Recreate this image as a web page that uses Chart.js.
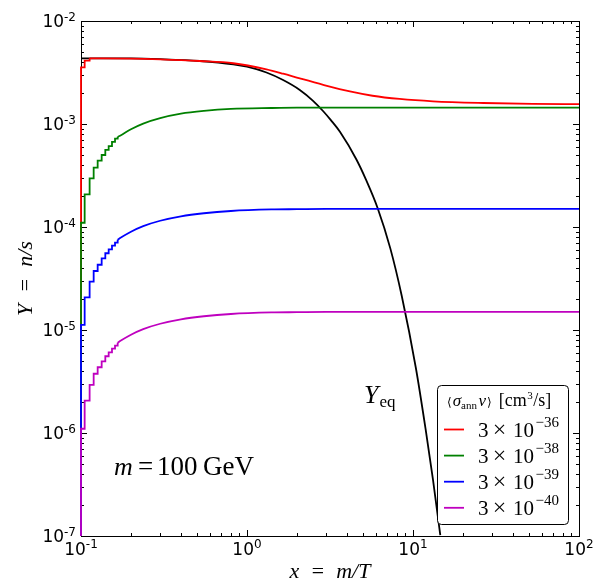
<!DOCTYPE html>
<html lang="en">
<head>
  <meta charset="UTF-8">
  <title>Yield Y = n/s</title>
  <script src="https://cdn.jsdelivr.net/npm/chart.js"></script>
  <style>
    body { margin: 0; background: #fff; }
    #wrap { width: 595px; height: 585px; }
  </style>
</head>
<body>
  <div id="wrap"><canvas id="yieldChart" width="595" height="585"></canvas></div>

  <script>
    // Treppen am Anfang (gleiche x-Stufen fuer alle Kurven)
    const stepX        = [0.1, 0.1052, 0.1127, 0.1192, 0.1260, 0.1332, 0.1401, 0.1468, 0.1537, 0.1603, 0.1663];
    const greenStepY   = [1.1e-4, 2.07e-4, 2.97e-4, 3.77e-4, 4.41e-4, 5.0e-4, 5.6e-4, 6.1e-4, 6.7e-4, 7.2e-4, 7.5e-4];
    const blueStepY    = [1.12e-5, 2.07e-5, 2.95e-5, 3.74e-5, 4.3e-5, 4.97e-5, 5.56e-5, 6.07e-5, 6.59e-5, 7.05e-5, 7.5e-5];
    const magentaStepY = [1.1e-6, 2.06e-6, 2.93e-6, 3.76e-6, 4.35e-6, 4.97e-6, 5.56e-6, 6.07e-6, 6.6e-6, 7.05e-6, 7.5e-6];
    const redStepX     = [0.1, 0.1052, 0.1127];
    const redStepY     = [3.55e-3, 4.12e-3, 4.34e-3];

    // glatter Teil
    const smoothX  = [0.172, 0.2, 0.237, 0.3, 0.4, 0.55, 0.8, 1.4, 2, 3, 5, 10, 20, 50, 100];
    const greenY   = [7.7e-4, 8.9e-4, 1.01e-3, 1.14e-3, 1.26e-3, 1.34e-3, 1.4e-3, 1.43e-3, 1.44e-3, 1.44e-3, 1.44e-3, 1.44e-3, 1.44e-3, 1.44e-3, 1.44e-3];
    const blueY    = [7.8e-5, 9.0e-5, 1.02e-4, 1.15e-4, 1.27e-4, 1.36e-4, 1.43e-4, 1.48e-4, 1.49e-4, 1.5e-4, 1.5e-4, 1.5e-4, 1.5e-4, 1.5e-4, 1.5e-4];
    const magentaY = [7.8e-6, 9.0e-6, 1.02e-5, 1.15e-5, 1.27e-5, 1.36e-5, 1.43e-5, 1.48e-5, 1.49e-5, 1.5e-5, 1.5e-5, 1.5e-5, 1.5e-5, 1.5e-5, 1.5e-5];

    const redX = [0.2, 0.3, 0.52, 0.827, 1.31, 1.65, 2.08, 2.88, 4.17, 5.7, 8.3, 13.2, 26.5, 52.7, 100];
    const redY = [4.32e-3, 4.25e-3, 4.09e-3, 3.89e-3, 3.39e-3, 3.08e-3, 2.77e-3, 2.4e-3, 2.07e-3, 1.88e-3, 1.75e-3, 1.66e-3, 1.6e-3, 1.57e-3, 1.56e-3];

    // Gleichgewicht Y_eq
    const eqX = [0.1, 0.2, 0.3, 0.52, 0.827, 1.0, 1.31, 1.65, 2.08, 2.5, 2.88, 3.2, 3.63, 4.57, 5.2, 6.12, 7.3, 8.55, 10.4, 11.9, 13.2, 14.6];
    const eqY = [4.34e-3, 4.33e-3, 4.26e-3, 4.09e-3, 3.8e-3, 3.6e-3, 3.16e-3, 2.67e-3, 2.14e-3, 1.68e-3, 1.33e-3, 1.09e-3, 8.4e-4, 4.5e-4, 2.9e-4, 1.53e-4, 6.2e-5, 2.15e-5, 4.3e-6, 1.1e-6, 3.5e-7, 1.02e-7];

    // Legende
    const sigmaExp = ['\u221236', '\u221238', '\u221239', '\u221240'];
    const colors   = ['#ff0000', '#008000', '#0000ff', '#bf00bf'];

    const FLOOR = 1e-9; // Startwert unterhalb der Achse
    const pts = (xs, ys) => xs.map((x, i) => ({ x: x, y: ys[i] }));

    function stepSet(color, xs, ys, order) {
      return {
        data: [{ x: xs[0], y: FLOOR }].concat(pts(xs, ys)),
        stepped: 'before', borderColor: color, borderWidth: 1.8,
        pointRadius: 0, fill: false, order: order,
        clip: { left: 3, top: 0, right: 0, bottom: 0 } // senkrechte Linie auf der Achse sichtbar lassen
      };
    }
    function smoothSet(color, xs, ys, order, label, startX, startY) {
      let data = pts(xs, ys);
      if (startX !== undefined) data = [{ x: startX, y: startY }].concat(data);
      return {
        label: label, data: data, borderColor: color, borderWidth: 1.8,
        cubicInterpolationMode: 'monotone', pointRadius: 0, fill: false, order: order
      };
    }
    const last = a => a[a.length - 1];

    const datasets = [
      smoothSet('#000000', eqX, eqY, 10, 'Yeq'),
      stepSet(colors[0], redStepX, redStepY, 9),
      smoothSet(colors[0], redX, redY, 9, 'red', last(redStepX), last(redStepY)),
      stepSet(colors[1], stepX, greenStepY, 8),
      smoothSet(colors[1], smoothX, greenY, 8, 'green', last(stepX), last(greenStepY)),
      stepSet(colors[2], stepX, blueStepY, 7),
      smoothSet(colors[2], smoothX, blueY, 7, 'blue', last(stepX), last(blueStepY)),
      stepSet(colors[3], stepX, magentaStepY, 6),
      smoothSet(colors[3], smoothX, magentaY, 6, 'magenta', last(stepX), last(magentaStepY))
    ];

    // Log-Ticks 1..9 pro Dekade
    function decadeTicks(scale) {
      const ticks = [];
      const e0 = Math.round(Math.log10(scale.min));
      const e1 = Math.round(Math.log10(scale.max));
      for (let e = e0; e <= e1; e++) {
        for (let k = 1; k <= 9; k++) {
          const v = k * Math.pow(10, e);
          if (v >= scale.min * 0.999 && v <= scale.max * 1.001) ticks.push({ value: v });
        }
      }
      scale.ticks = ticks;
    }
    const isDecade = v => Math.abs(Math.log10(v) - Math.round(Math.log10(v))) < 1e-9;

    const titleFont = { family: 'Liberation Serif', size: 22, style: 'italic' };

    // Rahmen und Ticks nach innen
    const framePlugin = {
      id: 'frame',
      beforeDatasetsDraw(chart) {
        const ctx = chart.ctx, a = chart.chartArea;
        const sx = chart.scales.x, sy = chart.scales.y;
        ctx.save();
        ctx.strokeStyle = '#000';
        ctx.lineWidth = 1;
        ctx.strokeRect(Math.round(a.left) + 0.5, Math.round(a.top) + 0.5,
          Math.round(a.right - a.left), Math.round(a.bottom - a.top));
        ctx.beginPath();
        sx.ticks.forEach(t => {
          const px = Math.round(sx.getPixelForValue(t.value)) + 0.5;
          const len = isDecade(t.value) ? 6 : 3;
          ctx.moveTo(px, a.bottom); ctx.lineTo(px, a.bottom - len);
          ctx.moveTo(px, a.top); ctx.lineTo(px, a.top + len);
        });
        sy.ticks.forEach(t => {
          const py = Math.round(sy.getPixelForValue(t.value)) + 0.5;
          const len = isDecade(t.value) ? 6 : 3;
          ctx.moveTo(a.left, py); ctx.lineTo(a.left + len, py);
          ctx.moveTo(a.right, py); ctx.lineTo(a.right - len, py);
        });
        ctx.stroke();
        ctx.restore();
      },
      // Zehnerpotenzen mit hochgestelltem Exponenten
      afterDraw(chart) {
        const ctx = chart.ctx, a = chart.chartArea;
        const mainF = '17px "DejaVu Sans"', supF = '12px "DejaVu Sans"';
        ctx.save();
        ctx.fillStyle = '#000';
        ctx.textAlign = 'left';
        ctx.textBaseline = 'alphabetic';
        const label = (v, x, y, anchor) => {
          const ex = String(Math.round(Math.log10(v)));
          ctx.font = mainF; const wm = ctx.measureText('10').width;
          ctx.font = supF; const ws = ctx.measureText(ex).width;
          const x0 = anchor === 'right' ? x - wm - ws : x - (wm + ws) / 2;
          ctx.font = mainF; ctx.fillText('10', x0, y);
          ctx.font = supF; ctx.fillText(ex, x0 + wm, y - 6.5);
        };
        chart.scales.y.ticks.forEach(t => {
          if (isDecade(t.value)) label(t.value, a.left - 5, chart.scales.y.getPixelForValue(t.value) + 6, 'right');
        });
        chart.scales.x.ticks.forEach(t => {
          if (isDecade(t.value)) label(t.value, chart.scales.x.getPixelForValue(t.value), a.bottom + 18.5, 'center');
        });
        ctx.restore();
      }
    };

    function drawRuns(ctx, x, y, runs) {
      runs.forEach(r => {
        ctx.font = r.font;
        ctx.fillText(r.t, x, y + (r.dy || 0));
        x += ctx.measureText(r.t).width + (r.gap || 0);
      });
      return x;
    }

    // Beschriftungen und Legende
    const notesPlugin = {
      id: 'notes',
      afterDatasetsDraw(chart) {
        const ctx = chart.ctx;
        const serif = '"Liberation Serif"';
        ctx.save();
        ctx.fillStyle = '#000';
        ctx.textBaseline = 'alphabetic';
        ctx.textAlign = 'left';

        // Y_eq
        drawRuns(ctx, 364, 403, [
          { t: 'Y', font: 'italic 26px ' + serif, gap: 1 },
          { t: 'eq', font: '17px ' + serif, dy: 4 }
        ]);

        // m = 100 GeV
        ctx.font = 'italic 26px ' + serif; ctx.fillText('m', 114, 475);
        ctx.font = '27px ' + serif;
        ctx.fillText('=', 138, 475);
        ctx.fillText('100', 157, 475);
        ctx.fillText('GeV', 203, 475);

        // Legendenrahmen
        const bx = 437.5, by = 385.5, bw = 131, bh = 139, r = 4;
        ctx.beginPath();
        ctx.moveTo(bx + r, by);
        ctx.lineTo(bx + bw - r, by); ctx.quadraticCurveTo(bx + bw, by, bx + bw, by + r);
        ctx.lineTo(bx + bw, by + bh - r); ctx.quadraticCurveTo(bx + bw, by + bh, bx + bw - r, by + bh);
        ctx.lineTo(bx + r, by + bh); ctx.quadraticCurveTo(bx, by + bh, bx, by + bh - r);
        ctx.lineTo(bx, by + r); ctx.quadraticCurveTo(bx, by, bx + r, by);
        ctx.closePath();
        ctx.fillStyle = '#fff';
        ctx.fill();
        ctx.strokeStyle = '#000';
        ctx.lineWidth = 1;
        ctx.stroke();

        ctx.fillStyle = '#000';
        drawRuns(ctx, 447, 406, [
          { t: '\u27E8', font: '12px "DejaVu Serif"', gap: 1 },
          { t: '\u03C3', font: 'italic 17px ' + serif },
          { t: 'ann', font: '11px ' + serif, dy: 3, gap: 1.5 },
          { t: 'v', font: 'italic 17px ' + serif, gap: 1 },
          { t: '\u27E9', font: '12px "DejaVu Serif"', gap: 7 },
          { t: '[cm', font: '18px ' + serif, gap: 0.5 },
          { t: '3', font: '11px ' + serif, dy: -7, gap: 0.5 },
          { t: '/s]', font: '18px ' + serif }
        ]);

        sigmaExp.forEach((ex, i) => {
          const y = 429.5 + i * 26.1;
          ctx.strokeStyle = colors[i];
          ctx.lineWidth = 1.8;
          ctx.beginPath();
          ctx.moveTo(444, y); ctx.lineTo(464, y);
          ctx.stroke();
          ctx.fillStyle = '#000';
          ctx.font = '21px ' + serif;
          ctx.fillText('3', 478, y + 7);
          ctx.fillText('10', 513, y + 7);
          ctx.textAlign = 'center';
          ctx.font = '24px ' + serif;
          ctx.fillText('\u00D7', 499.5, y + 7);
          ctx.textAlign = 'left';
          ctx.font = '15px ' + serif;
          ctx.fillText(ex, 535.5, y - 3);
        });
        ctx.restore();
      }
    };

    new Chart(document.getElementById('yieldChart'), {
      type: 'line',
      data: { datasets: datasets },
      options: {
        responsive: false,
        animation: false,
        layout: { padding: { top: 21, right: 16, left: 0, bottom: 0 } },
        plugins: { legend: { display: false }, tooltip: { enabled: false } },
        scales: {
          x: {
            type: 'logarithmic', min: 0.1, max: 100,
            afterBuildTicks: decadeTicks,
            afterFit: s => { s.height = 49; },
            grid: { display: false, drawTicks: false },
            border: { display: false },
            ticks: { display: false },
            title: { display: true, text: 'x  =  m/T', color: '#000', font: titleFont, padding: { top: 0, bottom: 0 } }
          },
          y: {
            type: 'logarithmic', min: 1e-7, max: 1e-2,
            afterBuildTicks: decadeTicks,
            afterFit: s => { s.width = 81; },
            grid: { display: false, drawTicks: false },
            border: { display: false },
            ticks: { display: false },
            title: { display: true, text: 'Y  =  n/s', color: '#000', font: titleFont, padding: { top: 13, bottom: 0 } }
          }
        }
      },
      plugins: [framePlugin, notesPlugin]
    });
  </script>
</body>
</html>
